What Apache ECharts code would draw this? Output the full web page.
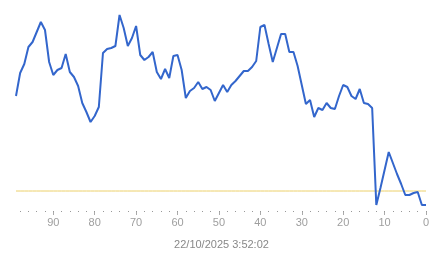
<!DOCTYPE html>
<html>
<head>
<meta charset="utf-8">
<script src="https://cdn.jsdelivr.net/npm/echarts@6/dist/echarts.min.js"></script>
<style>html,body{margin:0;padding:0;background:#fff}#c{width:443px;height:258px}</style>
</head>
<body>
<div id="c"></div>
<script>
var categories = ['99','98','97','96','95','94','93','92','91','90','89','88','87','86','85','84','83','82','81','80','79','78','77','76','75','74','73','72','71','70','69','68','67','66','65','64','63','62','61','60','59','58','57','56','55','54','53','52','51','50','49','48','47','46','45','44','43','42','41','40','39','38','37','36','35','34','33','32','31','30','29','28','27','26','25','24','23','22','21','20','19','18','17','16','15','14','13','12','11','10','9','8','7','6','5','4','3','2','1','0'];
var values = [115,138,147,164,169,179,189,181,149,136,141,143,157,139,134,125,108,99,89,95,104,158,162,163,165,196,183,165,173,185,156,151,154,159,139,132,142,133,155,156,141,113,120,123,129,122,124,121,110,118,126,119,126,130,135,140,140,144,150,184,186,167,149,163,177,177,159,159,145,126,107,111,94,103,101,108,103,102,115,126,124,115,112,122,108,107,103,6,23,41,59,48,37,27,16,16,18,19,6,6];
var threshold = 20;
var dateLabel = '22/10/2025 3:52:02';

function isMajor(i){ return parseInt(categories[i],10) % 10 === 0; }
function isMinor(i){ return parseInt(categories[i],10) % 2 === 0; }
var thresholdLine = categories.map(function(){ return threshold; });

var chart = echarts.init(document.getElementById('c'), null, {renderer:'canvas'});
chart.setOption({
  animation:false,
  title:{text:dateLabel,left:'center',top:234,textStyle:{fontSize:11,fontWeight:'normal',color:'#888',fontFamily:'Liberation Sans, Arial, sans-serif'}},
  grid:{left:16,right:17,top:0,bottom:47},
  xAxis:[{
    type:'category',data:categories,boundaryGap:false,
    axisLine:{show:false},
    axisTick:{show:true,length:4,interval:function(i){return isMajor(i);},lineStyle:{color:'#aaa'}},
    axisLabel:{interval:function(i){return isMajor(i);},color:'#9e9e9e',fontSize:11,margin:6,fontFamily:'Liberation Sans, Arial, sans-serif'},
    splitLine:{show:false}
  },{
    type:'category',data:categories,boundaryGap:false,position:'bottom',
    axisLine:{show:false},
    axisTick:{show:true,length:1,interval:function(i){return isMinor(i);},lineStyle:{color:'#999'}},
    axisLabel:{show:false},splitLine:{show:false}
  }],
  yAxis:{type:'value',min:0,max:211,show:false,splitLine:{show:false}},
  series:[{
    type:'line',data:thresholdLine,xAxisIndex:0,symbol:'none',silent:true,z:1,
    lineStyle:{color:'#ecd06a',width:1}
  },{
    type:'line',data:values,xAxisIndex:0,symbol:'none',z:3,
    lineStyle:{color:'#3366cc',width:2}
  }]
});
</script>
</body>
</html>
